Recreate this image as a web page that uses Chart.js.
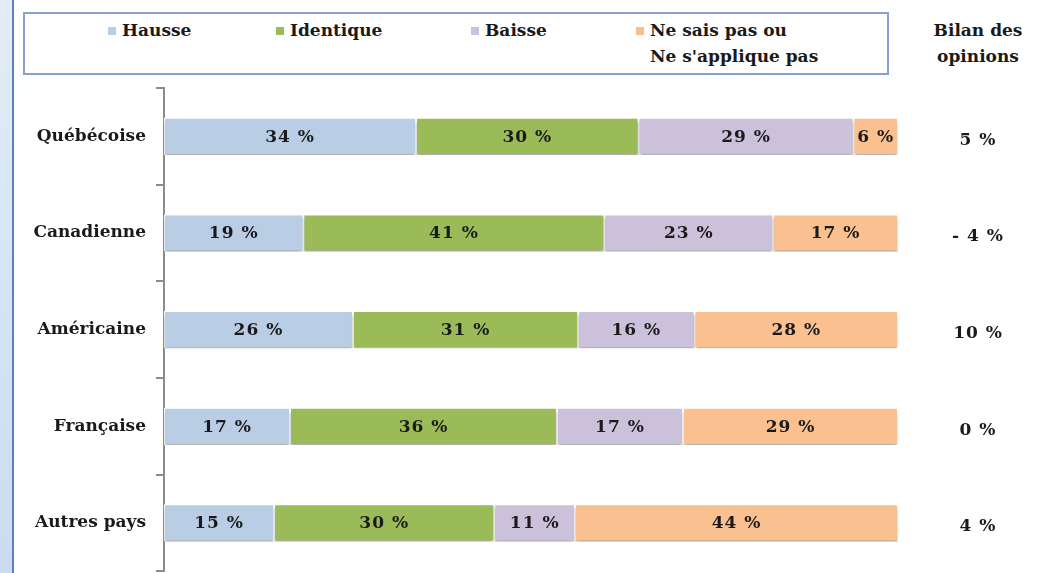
<!DOCTYPE html>
<html lang="fr">
<head>
    <meta charset="UTF-8">
    <title>Bilan des opinions</title>
    <script src="https://cdn.jsdelivr.net/npm/chart.js"></script>
    <style>
        body {
            margin: 0;
            width: 1057px;
            height: 573px;
            overflow: hidden;
            background: #ffffff;
            position: relative;
            font-family: 'DejaVu Serif', serif;
            font-weight: bold;
            color: #1a1a1a;
        }
        .strip {
            position: absolute;
            left: 0; top: 0;
            width: 12px; height: 573px;
            background: linear-gradient(180deg, #e3edf8, #c9dcf1);
            border-right: 2px solid #5b7fbf;
        }
        .legend {
            position: absolute;
            left: 23px; top: 12px;
            width: 862px; height: 59px;
            border: 2px solid #86a2d2;
        }
        .item {
            position: absolute;
            top: 3px;
            font-size: 17px;
            line-height: 26px;
        }
        .item i {
            position: absolute;
            left: -14px; top: 10px;
            width: 8px; height: 8px;
        }
        .bilan {
            position: absolute;
            left: 918px; top: 17px;
            width: 120px;
            text-align: center;
            font-size: 17px;
            line-height: 26px;
        }
        #chart { position: absolute; left: 0; top: 0; }
    </style>
</head>
<body>
    <div class="strip"></div>
    <div class="legend" id="legend"></div>
    <div class="bilan">Bilan des<br>opinions</div>
    <canvas id="chart" width="1057" height="583"></canvas>

    <script>
        const categories = ['Québécoise', 'Canadienne', 'Américaine', 'Française', 'Autres pays'];
        const hausse = [34, 19, 26, 17, 15];
        const identique = [30, 41, 31, 36, 30];
        const baisse = [29, 23, 16, 17, 11];
        const nsp = [6, 17, 28, 29, 44];
        const bilan = ['5 %', '- 4 %', '10 %', '0 %', '4 %'];

        const seriesNames = ['Hausse', 'Identique', 'Baisse', ['Ne sais pas ou', "Ne s'applique pas"]];
        const seriesColors = ['#b9cde5', '#9bbb59', '#ccc1da', '#fac090'];
        const legendLeft = [97, 265, 460, 625];

        // legend (html)
        const legend = document.getElementById('legend');
        seriesNames.forEach((name, i) => {
            const d = document.createElement('div');
            d.className = 'item';
            d.style.left = legendLeft[i] + 'px';
            d.innerHTML = '<i style="background:' + seriesColors[i] + '"></i>' + [].concat(name).join('<br>');
            legend.appendChild(d);
        });

        const raw = [hausse, identique, baisse, nsp];
        const totals = categories.map((_, j) => raw.reduce((s, arr) => s + arr[j], 0));

        const datasets = raw.map((arr, i) => ({
            label: [].concat(seriesNames[i]).join(' '),
            data: arr.map((v, j) => v / totals[j] * 100),
            raw: arr,
            backgroundColor: seriesColors[i],
            borderColor: '#ffffff',
            borderWidth: 1,
            borderSkipped: false,
            categoryPercentage: 1,
            barPercentage: 0.385
        }));

        const shadowPlugin = {
            id: 'shadow',
            beforeDatasetsDraw(chart) {
                const ctx = chart.ctx;
                ctx.save();
                ctx.shadowColor = 'rgba(0,0,0,0.35)';
                ctx.shadowBlur = 3;
                ctx.shadowOffsetY = 3;
            },
            afterDatasetsDraw(chart) {
                chart.ctx.restore();
            }
        };

        const labelPlugin = {
            id: 'segLabels',
            afterDraw(chart) {
                const ctx = chart.ctx;
                ctx.save();
                ctx.font = 'bold 17px "DejaVu Serif"';
                ctx.letterSpacing = '1px';
                ctx.fillStyle = '#1a1a1a';
                ctx.textAlign = 'center';
                ctx.textBaseline = 'middle';
                chart.data.datasets.forEach((ds, i) => {
                    chart.getDatasetMeta(i).data.forEach((bar, j) => {
                        ctx.fillText(ds.raw[j] + ' %', (bar.x + bar.base) / 2, bar.y + 1);
                    });
                });
                const y = chart.scales.y;
                bilan.forEach((t, j) => {
                    ctx.fillText(t, 978, y.getPixelForValue(j) + 4);
                });
                ctx.restore();
            }
        };

        new Chart(document.getElementById('chart'), {
            type: 'bar',
            data: { labels: categories, datasets: datasets },
            options: {
                indexAxis: 'y',
                responsive: false,
                animation: false,
                layout: { padding: { top: 88, right: 159, bottom: 3, left: 0 } },
                plugins: { legend: { display: false }, tooltip: { enabled: false } },
                scales: {
                    x: { stacked: true, min: 0, max: 100, display: false },
                    y: {
                        stacked: true,
                        afterFit(scale) { scale.width = 164; },
                        border: { display: true, color: '#8c8c8c', width: 2 },
                        grid: { offset: true, drawOnChartArea: false, drawTicks: true, tickLength: 8, tickColor: '#8c8c8c', lineWidth: 2 },
                        ticks: { color: '#1a1a1a', padding: 10, font: { family: 'DejaVu Serif', weight: 'bold', size: 17, lineHeight: 0.2 } }
                    }
                }
            },
            plugins: [shadowPlugin, labelPlugin]
        });
    </script>
</body>
</html>
